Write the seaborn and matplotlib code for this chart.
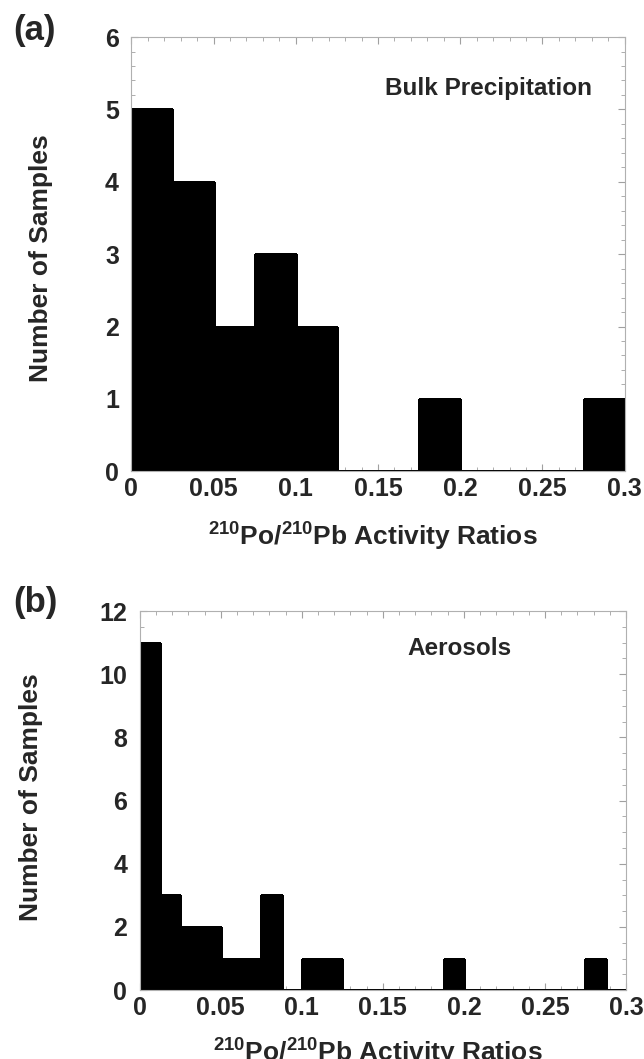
import numpy as np
import pandas as pd
import matplotlib
matplotlib.use("Agg")
import matplotlib.pyplot as plt
from matplotlib.ticker import MultipleLocator
import seaborn as sns

# histogram data
bins_a = list(np.linspace(0, 0.3, 13))          # width 0.025
counts_a = [5, 4, 2, 3, 2, 0, 0, 1, 0, 0, 0, 1]

bins_b = list(np.linspace(0, 0.3, 25))          # width 0.0125
counts_b = [11, 3, 2, 2, 1, 1, 3, 0, 1, 1, 0, 0,
            0, 0, 0, 1, 0, 0, 0, 0, 0, 0, 1, 0]

sns.set_style("ticks")
plt.rcParams['font.family'] = ['Liberation Sans', 'DejaVu Sans']
plt.rcParams['font.weight'] = 'bold'
plt.rcParams['mathtext.fontset'] = 'custom'
plt.rcParams['mathtext.rm'] = 'Liberation Sans:bold'
plt.rcParams['mathtext.bf'] = 'Liberation Sans:bold'
plt.rcParams['mathtext.default'] = 'rm'

fig = plt.figure(figsize=(6.44, 10.59), dpi=100)
ax1 = fig.add_axes([0.204, 0.555, 0.766, 0.410])
ax2 = fig.add_axes([0.217, 0.065, 0.755, 0.358])

xlab = r"$^{210}$Po/$^{210}$Pb Activity Ratios"

paineis = [
    (ax1, bins_a, counts_a, 6, 1, 0.2, "Bulk Precipitation", (0.217, 5.29), (-0.158, 0.49), -0.113, "(a)", 0.971),
    (ax2, bins_b, counts_b, 12, 2, 0.5, "Aerosols", (0.197, 10.83), (-0.199, 0.51), -0.122, "(b)", 0.431),
]

for ax, edges, cnt, ymax, ymaj, ymin, nome, pos, ylpos, xly, letra, ly in paineis:
    e = np.array(edges)
    centros = (e[:-1] + e[1:]) / 2
    df = pd.DataFrame({'ratio': centros, 'n': cnt})
    sns.histplot(data=df, x='ratio', weights='n', bins=edges, ax=ax,
                 color='black', alpha=1, edgecolor='black', linewidth=0.8,
                 antialiased=False)
    ax.set_xlim(0, 0.3)
    ax.set_ylim(0, ymax)
    ax.xaxis.set_major_locator(MultipleLocator(0.05))
    ax.xaxis.set_minor_locator(MultipleLocator(0.01))
    ax.yaxis.set_major_locator(MultipleLocator(ymaj))
    ax.yaxis.set_minor_locator(MultipleLocator(ymin))
    ax.set_xticks(np.arange(0, 0.31, 0.05))
    ax.set_xticklabels(['0', '0.05', '0.1', '0.15', '0.2', '0.25', '0.3'])
    for s in ax.spines.values():
        s.set_visible(True)
        s.set_color('#b0b0b0')
        s.set_linewidth(0.8)
    ax.tick_params(which='both', direction='in', top=True, right=True, color='#a0a0a0')
    ax.tick_params(which='major', length=5, width=0.8, labelsize=18)
    ax.tick_params(which='minor', length=3, width=0.6)
    ax.tick_params(axis='x', which='major', pad=4)
    ax.tick_params(axis='y', which='major', pad=9)
    for t in ax.get_xticklabels() + ax.get_yticklabels():
        t.set_fontweight('bold')
    ax.set_ylabel('Number of Samples', fontsize=19, fontweight='bold')
    ax.yaxis.set_label_coords(*ylpos)
    ax.set_xlabel(xlab, fontsize=19, fontweight='bold')
    ax.xaxis.set_label_coords(0.49, xly)
    ax.text(pos[0], pos[1], nome, ha='center', va='center', fontsize=17.5, fontweight='bold')
    fig.text(0.02, ly, letra, ha='left', va='center', fontsize=25, fontweight='bold')

fig.savefig('out.png', dpi=100)
